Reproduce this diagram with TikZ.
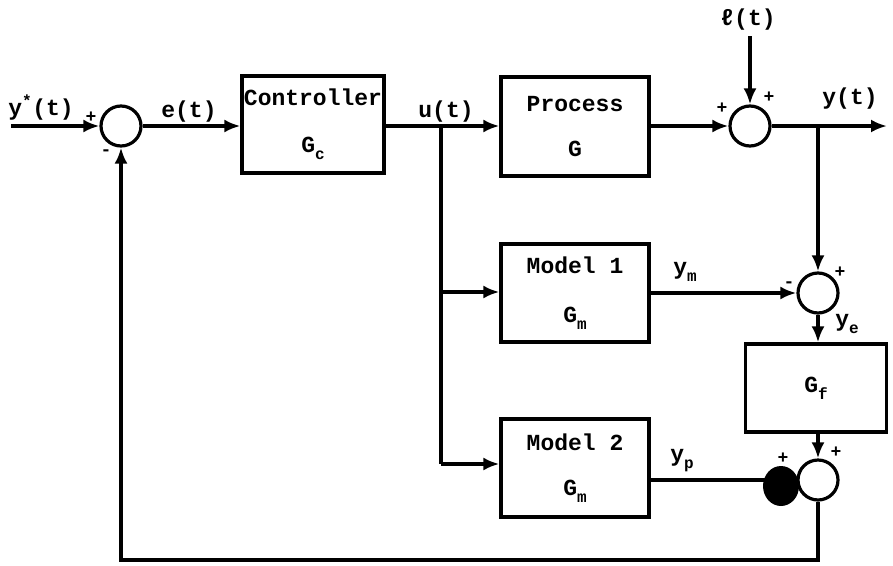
\documentclass[tikz,border=0pt]{standalone}
\usepackage{fontspec}
\setmonofont{Liberation Mono}
\usetikzlibrary{arrows.meta}
\newcommand\lsub[1]{\raisebox{-0.3em}{\fontsize{16}{16}\selectfont #1}}
\tikzset{
  every node/.style={inner sep=0pt},
  wire/.style={line width=3.2pt},
  arr/.style={wire,-{Latex[length=16pt,width=13pt]}},
  blockbox/.style={draw, line width=3.2pt, rectangle, align=center},
  sumnode/.style={draw, line width=3.2pt, circle, minimum size=40pt},
  lbl/.style={font=\ttfamily\bfseries\fontsize{23}{25}\selectfont},
  sgn/.style={font=\ttfamily\bfseries\fontsize{18}{18}\selectfont}
}
\begin{document}
\begin{tikzpicture}[x=1pt,y=-1pt,font=\ttfamily\bfseries\fontsize{23}{25}\selectfont]
\useasboundingbox (0,0) rectangle (893,565);
% blocks
\node[blockbox, minimum width=142pt, minimum height=97pt] (ctrl) at (313,124.5) {Controller\\[22pt]G\lsub{c}};
\node[blockbox, minimum width=148pt, minimum height=99pt] (proc) at (575,126.5) {Process\\[20pt]G};
\node[blockbox, minimum width=148pt, minimum height=98pt] (m1) at (575,293) {Model 1\\[24pt]G\lsub{m}};
\node[blockbox, minimum width=148pt, minimum height=98pt] (m2) at (575,468) {Model 2\\[20pt]G\lsub{m}};
\node[blockbox, minimum width=141pt, minimum height=88pt] (gf) at (816,388) {G\lsub{f}};
% summing junctions
\node[sumnode] (s1) at (121,126) {};
\node[sumnode] (s2) at (750,126) {};
\node[sumnode] (s3) at (818,293) {};
\node[sumnode] (s4) at (818,480) {};
% coordinates
\coordinate (in) at (11,126);
\coordinate (bu) at (441,126);
\coordinate (b1) at (441,292);
\coordinate (b2) at (441,464);
\coordinate (dist) at (750,36);
\coordinate (out) at (887,126);
\coordinate (by) at (818,126);
\coordinate (fbl) at (121,560);
% connectors
\draw[arr] (in) -- (s1.west);
\draw[arr] (s1.east) -- (ctrl.west |- s1.east);
\draw[arr] (ctrl.east |- s1.east) -- (proc.west |- s1.east);
\draw[wire] (bu) -- (b2);
\draw[arr] (b1) -- (m1.west |- b1);
\draw[arr] (b2) -- (m2.west |- b2);
\draw[arr] (proc.east |- s2.west) -- (s2.west);
\draw[arr] (dist) -- (s2.north);
\draw[arr] (s2.east) -- (out);
\draw[arr] (by) -- (s3.north);
\draw[arr] (m1.east |- s3.west) -- (s3.west);
\draw[arr] (s3.south) -- (s3.south |- gf.north);
\draw[arr] (s4.north |- gf.south) -- (s4.north);
\draw[arr] (m2.east |- s4.west) -- (s4.west);
\fill (781,486) ellipse [x radius=18pt, y radius=20pt];
\draw[arr] (s4.south) |- (fbl) -- (s1.south);
% labels
\node[lbl] (ly) at (41,108) {y\textsuperscript{*}(t)};
\node[lbl] (le) at (189,112) {e(t)};
\node[lbl] (lu) at (446,112) {u(t)};
\node[lbl] (ll) at (748,20) {ℓ(t)};
\node[lbl] (lyt) at (850,99) {y(t)};
\node[lbl] (lym) at (685,272) {y\lsub{m}};
\node[lbl] (lye) at (847,324) {y\lsub{e}};
\node[lbl] (lyp) at (682,461) {y\lsub{p}};
% signs
\node[sgn] (p1) at (91,117) {+};
\node[sgn] (n1) at (106,153) {-};
\node[sgn] (p2a) at (722,108) {+};
\node[sgn] (p2b) at (769,97) {+};
\node[sgn] (p3) at (840,272) {+};
\node[sgn] (n3) at (789,285) {-};
\node[sgn] (p4a) at (836,452) {+};
\node[sgn] (p4b) at (783,458) {+};
\end{tikzpicture}
\end{document}
